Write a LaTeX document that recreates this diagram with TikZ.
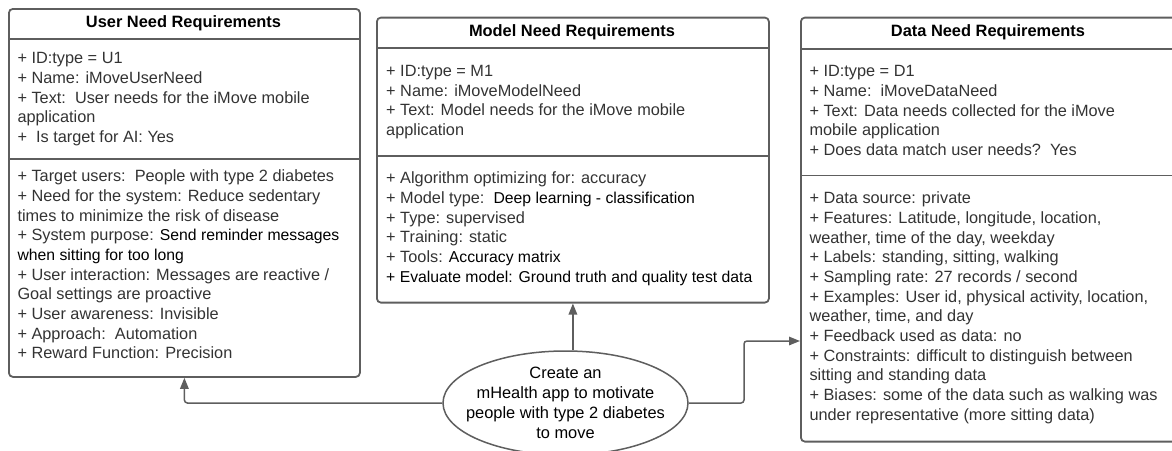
\documentclass[tikz,border=0pt]{standalone}
\usepackage{fontspec}
\setmainfont{Liberation Sans}
\usetikzlibrary{arrows.meta,shapes.geometric}
\definecolor{linegray}{HTML}{5E5E5E}
\definecolor{txtgray}{HTML}{333333}
\newcommand{\blk}[1]{{\fontsize{15.75}{19.65}\selectfont\color{black}#1}}
\begin{document}
\begin{tikzpicture}[x=1pt,y=-1pt,
  box/.style={draw=linegray, line width=1.8pt, rounded corners=4pt, anchor=north west, inner sep=0pt},
  sep/.style={draw=linegray, line width=1.8pt},
  body/.style={anchor=base west, inner sep=0pt, align=left, text=txtgray, font=\fontsize{16.3}{19.65}\selectfont},
  title/.style={anchor=base, inner sep=0pt, font=\bfseries\fontsize{16.4}{18}\selectfont, text=black},
  conn/.style={draw=linegray, line width=1.5pt, rounded corners=3pt, -{Triangle[width=8.5pt,length=11pt]}},
]
\useasboundingbox (0,0) rectangle (1172,450);

% boxes
\node[box, minimum width=351pt, minimum height=368pt] (user) at (8,8) {};
\node[box, minimum width=392pt, minimum height=285pt] (model) at (376,16.7) {};
\node[box, minimum width=376pt, minimum height=424pt] (data) at (800,16.7) {};

% dividers
\draw[sep] (8,39.3) -- (359,39.3);
\draw[sep] (8,159.3) -- (359,159.3);
\draw[sep] (376,48.3) -- (768,48.3);
\draw[sep] (376,155.7) -- (768,155.7);
\draw[sep] (800,49.3) -- (1176,49.3);
\draw[sep] (800,175.5) -- (1176,175.5);

% titles
\node[title] (ut) at (183.5,27.5) {User Need Requirements};
\node[title] (mt) at (572,36) {Model Need Requirements};
\node[title] (dt) at (988,36) {Data Need Requirements};

% user box text (anchored at the baseline of the last line)
\node[body] (u1) at (17.3,142.4) {+ ID:type = U1\\
+ Name: iMoveUserNeed\\
+ Text:\ \ User needs for the iMove mobile\\
application\\
+\ \ Is target for AI: Yes};
\node[body] (u2) at (17.3,358.7) {+ Target users:\ \ People with type 2 diabetes\\
+ Need for the system: Reduce sedentary\\
times to minimize the risk of disease\\
+ System purpose: \blk{Send reminder messages}\\
\blk{when sitting for too long}\\
+ User interaction: Messages are reactive /\\
Goal settings are proactive\\
+ User awareness: Invisible\\
+ Approach:\ \ Automation\\
+ Reward Function: Precision};

% model box text
\node[body] (m1) at (386,135.3) {+ ID:type = M1\\
+ Name: iMoveModelNeed\\
+ Text: Model needs for the iMove mobile\\
application};
\node[body] (m2) at (386,282) {+ Algorithm optimizing for: accuracy\\
+ Model type:\ \ \blk{Deep learning - classification}\\
+ Type: supervised\\
+ Training: static\\
+ Tools: \blk{Accuracy matrix}\\
\blk{+ Evaluate model: Ground truth and quality test data}};

% data box text
\node[body] (d1) at (809.3,155.3) {+ ID:type = D1\\
+ Name:\ \ iMoveDataNeed\\
+ Text: Data needs collected for the iMove\\
mobile application\\
+ Does data match user needs?\ \ Yes};
\node[body] (d2) at (809.3,420) {+ Data source: private\\
+ Features: Latitude, longitude, location,\\
weather, time of the day, weekday\\
+ Labels: standing, sitting, walking\\
+ Sampling rate: 27 records / second\\
+ Examples: User id, physical activity, location,\\
weather, time, and day\\
+ Feedback used as data: no\\
+ Constraints: difficult to distinguish between\\
sitting and standing data\\
+ Biases: some of the data such as walking was\\
under representative (more sitting data)};

% goal ellipse and its text
\node[draw=linegray, line width=1.5pt, ellipse, minimum width=245pt, minimum height=104pt,
  inner sep=0pt] (goal) at (565.5,403) {};
\node[inner sep=0pt, align=center, text=black, font=\fontsize{16.4}{19.8}\selectfont] (goaltxt) at (goal.center)
  {Create an\\mHealth app to motivate\\people with type 2 diabetes\\to move};

% connectors
\coordinate (k3) at (744,341);
\draw[conn] (goal.west) -| (user.south);
\draw[conn] (model.south |- goal.north) -- (model.south);
\draw[conn] (goal.east) -| (k3) -- (k3 -| data.west);
\end{tikzpicture}
\end{document}
